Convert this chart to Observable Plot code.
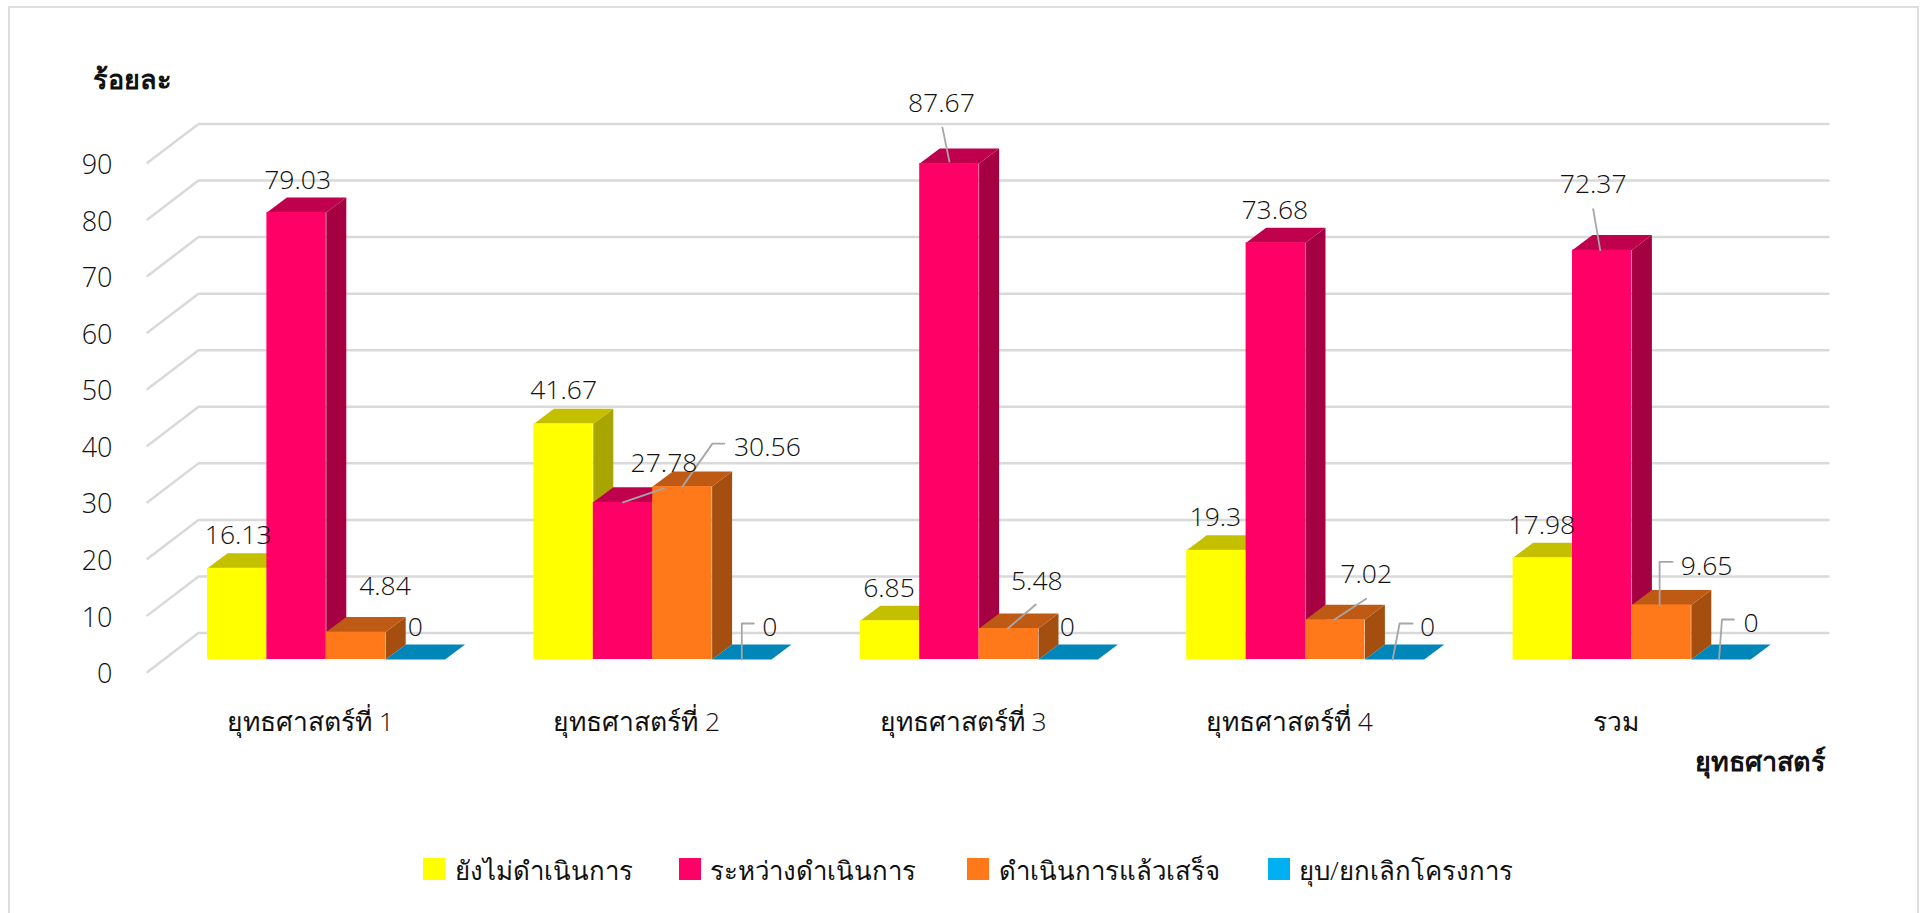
<!DOCTYPE html>
<html lang="th">
<head>
<meta charset="utf-8">
<script src="https://cdn.jsdelivr.net/npm/d3@7"></script>
<script src="https://cdn.jsdelivr.net/npm/@observablehq/plot@0.6"></script>
<style>
html,body{margin:0;padding:0;background:#fff;overflow:hidden}
#page{position:relative;width:1921px;height:913px;font-family:"Open Sans","Noto Sans",sans-serif;color:#111}
#frame{position:absolute;left:8px;top:6px;width:1907px;height:920px;border:2px solid #dedede;pointer-events:none}
#chart svg{display:block}
#legend{position:absolute;left:0;top:850px;width:1921px;height:40px;font-size:25.8px;font-weight:300}
#legend .sw{position:absolute;top:8px;width:22px;height:22px}
#legend .lb{position:absolute;top:0;line-height:40px;white-space:nowrap}
</style>
</head>
<body>
<div id="page"><div id="chart"></div><div id="legend"></div><div id="frame"></div></div>
<script>
const categories = ["ยุทธศาสตร์ที่ 1","ยุทธศาสตร์ที่ 2","ยุทธศาสตร์ที่ 3","ยุทธศาสตร์ที่ 4","รวม"];
const seriesNames = ["ยังไม่ดำเนินการ","ระหว่างดำเนินการ","ดำเนินการแล้วเสร็จ","ยุบ/ยกเลิกโครงการ"];
const notStarted = [16.13,41.67,6.85,19.3,17.98];
const inProgress = [79.03,27.78,87.67,73.68,72.37];
const completed  = [4.84,30.56,5.48,7.02,9.65];
const cancelled  = [0,0,0,0,0];
const yTicks = [0,10,20,30,40,50,60,70,80,90];
const yTitle = "ร้อยละ";
const xTitle = "ยุทธศาสตร์";

const values = [notStarted,inProgress,completed,cancelled];
const frontColors = ["#ffff00","#ff0066","#ff781a","#00b0f0"];
const topColors   = ["#c4c000","#bf004c","#bf5a14","#0086b8"];
const sideColors  = ["#a8a400","#a50042","#a44e10","#00648a"];

// Pixel geometry of the chart
const PXX = 59.4, PXY = 5.657, X0 = 207, Y0 = 659, STEP = 326.4/59.4;
const DX = 20/PXX, DY = 15/PXY;
const WALL_FRONT = -2.2, WALL_BACK = 4.67, LEFT_FRONT = (147-X0)/PXX, LEFT_BACK = (198-X0)/PXX, RIGHT = (1828-X0)/PXX;
const barX = (c,s) => c*STEP + s;

// label offsets from the bar's top centre (px)
const labelNudge = [
 [[1,-33],[1,-32],[29,-46],[0,-32]],
 [[0,-33],[41,-39],[85,-39],[28,-32]],
 [[-1,-32],[-8,-60],[28,-47],[-1,-32]],
 [[-1,-33],[-1,-32],[31,-45],[33,-32]],
 [[-1,-32],[-9,-66],[45,-38],[30,-36]]
];
// leader polylines [cluster, series, offsets px]
const leaders = [
 [2,1,[[0,-2],[-7,-36]]],
 [1,1,[[0,0],[41,-14]]],
 [1,2,[[0,0],[30,-43],[42,-43]]],
 [1,3,[[0,0],[0,-36],[12,-36]]],
 [2,2,[[-1,0],[27,-24]]],
 [3,2,[[-1,0],[31,-21]]],
 [3,3,[[-2,0],[5,-36],[18,-36]]],
 [4,2,[[-2,0],[-2,-43],[11,-43]]],
 [4,3,[[-2,0],[1,-40],[13,-40]]],
 [4,1,[[-2,0],[-9,-41]]]
];

const FONT = '"Open Sans","Noto Sans",sans-serif';
const INK = "#111111";
const H = 830;

const grid = yTicks.flatMap(t => [
  {t,x:LEFT_FRONT,y:t+WALL_FRONT},{t,x:LEFT_BACK,y:t+WALL_BACK},{t,x:RIGHT,y:t+WALL_BACK}
]);

const barMarks = values.flatMap((vals,s) => {
  const bars = vals.map((v,c)=>({c,v,x1:barX(c,s),x2:barX(c,s)+1}));
  const sides = bars.flatMap(b=>[
    {c:b.c,x:b.x2,y:0},{c:b.c,x:b.x2+DX,y:DY},{c:b.c,x:b.x2+DX,y:b.v+DY},{c:b.c,x:b.x2,y:b.v}]);
  const tops = bars.flatMap(b=>[
    {c:b.c,x:b.x1,y:b.v},{c:b.c,x:b.x2,y:b.v},{c:b.c,x:b.x2+DX,y:b.v+DY},{c:b.c,x:b.x1+DX,y:b.v+DY}]);
  return [
    Plot.line(sides,{x:"x",y:"y",z:"c",fill:sideColors[s],stroke:null}),
    Plot.line(tops,{x:"x",y:"y",z:"c",fill:topColors[s],stroke:null}),
    Plot.rect(bars.filter(b=>b.v>0),{x1:"x1",x2:"x2",y1:0,y2:"v",fill:frontColors[s]})
  ];
});

const anchor = (c,s) => ({x:barX(c,s)+0.5,y:values[s][c]});
const leaderPts = leaders.flatMap(([c,s,pts],i)=>pts.map(([dx,dy])=>{
  const a=anchor(c,s); return {i,x:a.x+dx/PXX,y:a.y-dy/PXY};
}));
const labels = categories.flatMap((_,c)=>values.map((vals,s)=>{
  const a=anchor(c,s),[dx,dy]=labelNudge[c][s];
  return {x:a.x+dx/PXX,y:a.y-dy/PXY,text:String(vals[c])};
}));

const plot = Plot.plot({
  width:1921,height:H,
  marginLeft:112,marginRight:0,marginTop:0,marginBottom:H-712,
  style:{fontFamily:FONT,background:"transparent",color:INK},
  x:{domain:[0,1],range:[X0,X0+PXX],axis:null},
  y:{domain:[0,100],range:[Y0,Y0-100*PXY],axis:null},
  marks:[
    Plot.line(grid,{x:"x",y:"y",z:"t",stroke:"#d9d9d9",strokeWidth:2.5,curve:"linear"}),
    ...barMarks,
    Plot.line(leaderPts,{x:"x",y:"y",z:"i",stroke:"#a6a6a6",strokeWidth:1.8}),
    Plot.text(labels,{x:"x",y:"y",text:"text",fontSize:26.5,fontWeight:300,fill:INK,lineAnchor:"middle"}),
    Plot.axisY(yTicks,{y:d=>d-2.65,text:d=>String(d),tickSize:0,tickPadding:0,fontSize:27,fontWeight:300,fill:INK,anchor:"left",label:null,lineAnchor:"middle"}),
    Plot.axisX(categories.map((_,c)=>c*STEP+1.73),{text:(d,i)=>categories[i],tickSize:0,tickPadding:0,fontSize:26.5,fontWeight:300,fill:INK,anchor:"bottom",label:null,lineAnchor:"top"}),
    Plot.text([yTitle],{x:(132-X0)/PXX,y:(Y0-80)/PXY,text:d=>d,fontSize:27,fontWeight:700,fill:INK,lineAnchor:"middle"}),
    Plot.text([xTitle],{x:(1825-X0)/PXX,y:(Y0-762)/PXY,text:d=>d,fontSize:27,fontWeight:700,fill:INK,textAnchor:"end",lineAnchor:"middle"})
  ]
});
document.getElementById("chart").append(plot);

const legend = d3.select("#legend");
const swatchX = [423,679,967,1268], labelX = [455,710,999,1299];
seriesNames.forEach((n,i)=>{
  legend.append("span").attr("class","sw").style("left",swatchX[i]+"px").style("background",frontColors[i]);
  legend.append("span").attr("class","lb").style("left",labelX[i]+"px").text(n);
});
</script>
</body>
</html>
